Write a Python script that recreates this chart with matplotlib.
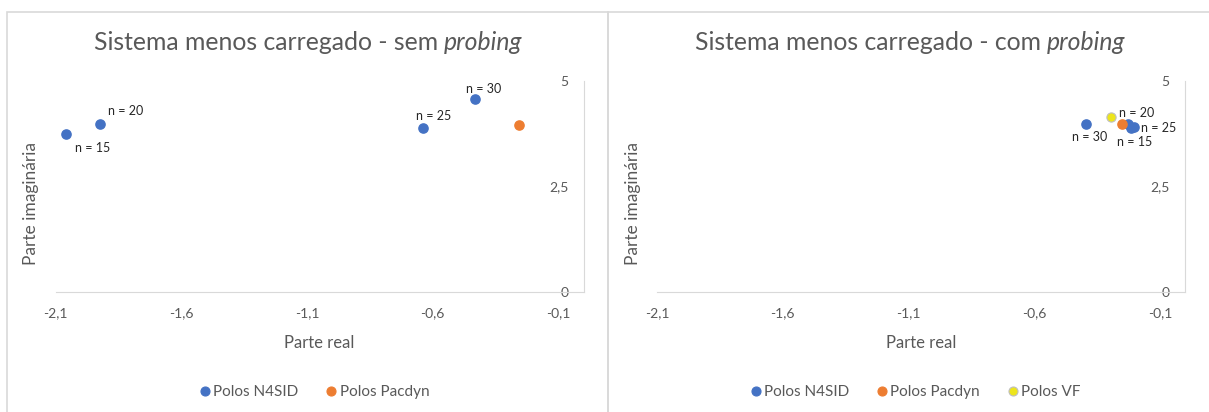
import matplotlib
matplotlib.use('Agg')
from matplotlib import pyplot as plt
from matplotlib.patches import Rectangle
from matplotlib.lines import Line2D

plt.rcParams['font.family'] = ['Lato', 'DejaVu Sans']

# dados lidos do grafico
# sem probing
n4sid_sem_re = [-2.058, -1.923, -0.637, -0.430]
n4sid_sem_im = [3.74, 3.97, 3.89, 4.58]
n4sid_sem_lbl = ['n = 15', 'n = 20', 'n = 25', 'n = 30']
pacdyn_sem_re = [-0.257]
pacdyn_sem_im = [3.96]

# com probing
n4sid_com_re = [-0.213, -0.226, -0.203, -0.394]
n4sid_com_im = [3.88, 3.97, 3.92, 3.97]
n4sid_com_lbl = ['n = 15', 'n = 20', 'n = 25', 'n = 30']
pacdyn_com_re = [-0.252]
pacdyn_com_im = [3.97]
vf_com_re = [-0.295]
vf_com_im = [4.14]

x_ticks = [-2.1, -1.6, -1.1, -0.6, -0.1]
x_tick_lbl = ['-2,1', '-1,6', '-1,1', '-0,6', '-0,1']
y_ticks = [0, 2.5, 5]
y_tick_lbl = ['0', '2,5', '5']

BLUE = '#4472C4'
ORANGE = '#ED7D31'
YELLOW = '#EDE51C'
GRAY_TXT = '#595959'
GRID = '#D9D9D9'

W, H = 1209, 412
fig = plt.figure(figsize=(W / 100, H / 100), dpi=100)


def px(x, y):
    # pixel -> fracao da figura
    return x / W, 1 - y / H


# molduras dos graficos
for x0, x1 in [(7, 608), (608, 1215)]:
    fig.patches.append(Rectangle(px(x0, 430), (x1 - x0) / W, (430 - 12) / H,
                                 transform=fig.transFigure, fill=False,
                                 edgecolor=GRID, linewidth=1.2))


def setup_axes(left_px):
    ax = fig.add_axes([left_px / W, 1 - 292 / H, 528 / W, 211 / H])
    ax.set_xlim(-2.1, 0)
    ax.set_ylim(0, 5)
    ax.patch.set_alpha(0)
    for s in ['top', 'right']:
        ax.spines[s].set_visible(False)
    ax.spines['left'].set_position(('data', 0))
    ax.spines['bottom'].set_position(('data', 0))
    ax.spines['left'].set_color(GRID)
    ax.spines['bottom'].set_color(GRID)
    ax.set_xticks(x_ticks)
    ax.set_xticklabels(x_tick_lbl)
    ax.set_yticks(y_ticks)
    ax.set_yticklabels(y_tick_lbl)
    ax.tick_params(length=0, labelsize=10, labelcolor=GRAY_TXT)
    ax.tick_params(axis='x', pad=11)
    ax.tick_params(axis='y', pad=11)
    ax.set_xlabel('Parte real', fontsize=12, color=GRAY_TXT)
    ax.set_ylabel('Parte imaginária', fontsize=12.5, color=GRAY_TXT)
    ax.xaxis.set_label_coords(0.5, -0.204)
    ax.yaxis.set_label_coords(-0.031, 0.42)
    return ax


def title(cx, cy, regular, italic, size=17.8):
    r = fig.canvas.get_renderer()
    t1 = fig.text(0, 0, regular, fontsize=size, color=GRAY_TXT, va='center')
    t2 = fig.text(0, 0, italic, fontsize=size, color=GRAY_TXT, va='center', style='italic')
    w1 = t1.get_window_extent(r).width
    w2 = t2.get_window_extent(r).width
    x0 = cx - (w1 + w2) / 2
    t1.set_position(px(x0, cy))
    t2.set_position(px(x0 + w1, cy))


def labels(ax, xs, ys, lbls, offs):
    for x, y, s, (dx, dy) in zip(xs, ys, lbls, offs):
        ax.annotate(s, (x, y), xytext=(dx, -dy), textcoords='offset pixels',
                    ha='left', va='center', fontsize=9, color='#262626')


MS = 44

ax1 = setup_axes(55.5)
ax1.scatter(n4sid_sem_re, n4sid_sem_im, s=MS, color=BLUE, zorder=3)
ax1.scatter(pacdyn_sem_re, pacdyn_sem_im, s=MS, color=ORANGE, zorder=3)
labels(ax1, n4sid_sem_re, n4sid_sem_im, n4sid_sem_lbl,
       [(9, 13.5), (8, -13), (-7.5, -11.5), (-9.5, -10)])
title(308, 43, 'Sistema menos carregado - sem ', 'probing')

ax2 = setup_axes(657)
ax2.scatter(n4sid_com_re, n4sid_com_im, s=MS, color=BLUE, zorder=3)
ax2.scatter(pacdyn_com_re, pacdyn_com_im, s=MS, color=ORANGE, zorder=3)
ax2.scatter(vf_com_re, vf_com_im, s=MS, color=YELLOW, edgecolor='#BFBFBF',
            linewidth=0.8, zorder=3)
labels(ax2, n4sid_com_re, n4sid_com_im, n4sid_com_lbl,
       [(-14.5, 13.5), (-9, -11), (7.5, 1), (-13.5, 13)])
title(910, 43, 'Sistema menos carregado - com ', 'probing')


def mk(c, ec=None):
    return Line2D([], [], marker='o', linestyle='', markersize=6.5,
                  markerfacecolor=c, markeredgecolor=ec or c, markeredgewidth=0.8)


leg_kw = dict(loc='center', frameon=False, fontsize=11, handletextpad=0.0,
              columnspacing=1.6, labelcolor=GRAY_TXT, handlelength=1.1)
fig.legend([mk(BLUE), mk(ORANGE)], ['Polos N4SID', 'Polos Pacdyn'], ncol=2,
           bbox_to_anchor=px(313, 392), **leg_kw)
fig.legend([mk(BLUE), mk(ORANGE), mk(YELLOW, '#BFBFBF')],
           ['Polos N4SID', 'Polos Pacdyn', 'Polos VF'], ncol=3,
           bbox_to_anchor=px(914, 392), **leg_kw)

fig.savefig('out.png', dpi=100)
